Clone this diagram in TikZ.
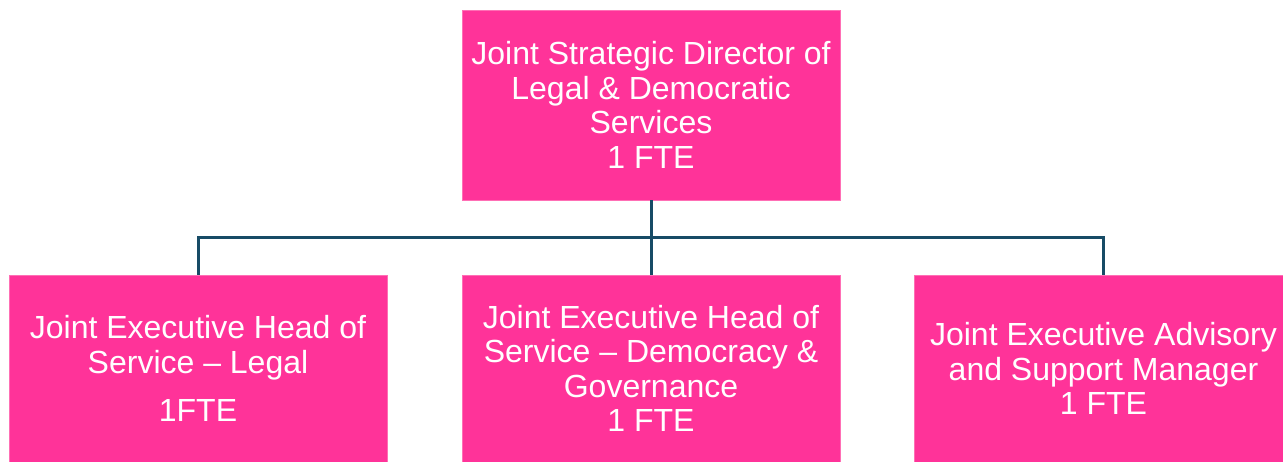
\documentclass[tikz,border=0pt]{standalone}
\usepackage{fontspec}
\usepackage{xcolor}
\setmainfont{Liberation Sans}
\definecolor{postpink}{HTML}{FF3399}
\definecolor{postedge}{HTML}{FF6FB5}
\definecolor{linkblue}{HTML}{174B66}

\begin{document}
\begin{tikzpicture}[x=1pt,y=-1pt]
  \tikzstyle{postbox}=[rectangle,fill=postpink,draw=postedge,line width=0.8pt,
    text=white,align=center,minimum width=378pt,inner sep=0pt,
    font=\fontsize{32}{34.6}\selectfont]
  \tikzstyle{link}=[draw=linkblue,line width=3pt]
  \useasboundingbox (0,0) rectangle (1283,462);
  \node(director)[postbox,minimum height=190pt] at (651,105)
    {Joint Strategic Director of\\Legal \& Democratic\\Services\\1 FTE};
  \node(legal)[postbox,minimum height=187pt] at (198,368.5)
    {Joint Executive Head of\\Service -- Legal\\[14pt]1FTE};
  \node(democracy)[postbox,minimum height=187pt] at (651,368.5)
    {Joint Executive Head of\\Service -- Democracy \&\\Governance\\1 FTE};
  \node(advisory)[postbox,minimum height=187pt] at (1103.5,368.5)
    {Joint Executive Advisory\\and Support Manager\\1 FTE};
  \coordinate(bus) at (651,238);
  \draw[link] (director.south) -- (bus);
  \draw[link] (bus) -| (legal.north);
  \draw[link] (bus) -- (democracy.north);
  \draw[link] (bus) -| (advisory.north);
\end{tikzpicture}
\end{document}
